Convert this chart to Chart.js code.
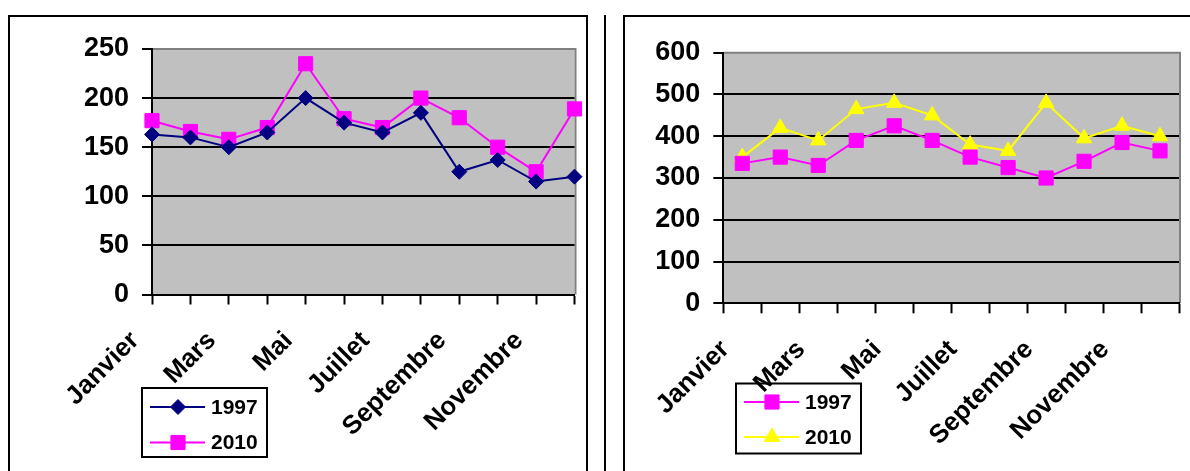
<!DOCTYPE html>
<html>
<head>
<meta charset="utf-8">
<script src="https://cdn.jsdelivr.net/npm/chart.js@4.4.1/dist/chart.umd.min.js"></script>
<style>
  html, body { margin: 0; padding: 0; background: #fff; width: 1190px; height: 471px; overflow: hidden; }
  .box { position: absolute; top: 15px; height: 520px; border: 2px solid #000; box-sizing: border-box; }
  #boxA { left: 8px; width: 580px; }
  #boxB { left: 623px; width: 620px; }
  #sep { position: absolute; left: 604px; top: 15px; width: 2px; height: 520px; background: #000; }
  canvas { position: absolute; left: 0; top: 0; }
</style>
</head>
<body>
<div class="box" id="boxA"><canvas id="chartA" width="576" height="454"></canvas></div>
<div id="sep"></div>
<div class="box" id="boxB"><canvas id="chartB" width="565" height="454"></canvas></div>
<script>
// Months shown on both category axes
const months = ['Janvier', 'Février', 'Mars', 'Avril', 'Mai', 'Juin',
                'Juillet', 'Août', 'Septembre', 'Octobre', 'Novembre', 'Décembre'];

// First chart
const seriesA1997 = [163, 160, 150, 165, 200, 175, 165, 185, 125, 137, 115, 120];
const seriesA2010 = [177, 166, 158, 170, 235, 179, 170, 200, 180, 150, 125, 189];
const ticksA = [0, 50, 100, 150, 200, 250];

// Second chart
const seriesB1997 = [335, 350, 330, 390, 425, 390, 350, 325, 300, 340, 385, 365];
const seriesB2010 = [350, 420, 390, 465, 480, 450, 380, 365, 480, 395, 425, 400];
const ticksB = [0, 100, 200, 300, 400, 500, 600];

const FONT = "'Liberation Sans', Arial, sans-serif";

// Grey plot background with the darker top/right edge
const plotBackground = {
  id: 'plotBackground',
  beforeDraw(chart) {
    const { ctx, chartArea: a } = chart;
    ctx.save();
    ctx.fillStyle = '#C0C0C0';
    ctx.fillRect(a.left, a.top, a.right - a.left, a.bottom - a.top);
    ctx.strokeStyle = '#808080';
    ctx.lineWidth = 2;
    ctx.beginPath();
    ctx.moveTo(a.left, a.top);
    ctx.lineTo(a.right + 1, a.top);
    ctx.lineTo(a.right + 1, a.bottom);
    ctx.stroke();
    ctx.restore();
  }
};

// Boxed legend placed below the plot
const boxLegend = {
  id: 'boxLegend',
  afterDraw(chart, args, opts) {
    const { ctx } = chart;
    ctx.save();
    ctx.lineWidth = 2;
    ctx.strokeStyle = '#000';
    ctx.strokeRect(opts.x, opts.y, opts.w, opts.h);
    chart.data.datasets.forEach((ds, i) => {
      const cy = opts.y + opts.rows[i];
      ctx.strokeStyle = ds.borderColor;
      ctx.lineWidth = 2;
      ctx.beginPath();
      ctx.moveTo(opts.x + 8, cy);
      ctx.lineTo(opts.x + 63, cy);
      ctx.stroke();
      ctx.fillStyle = ds.pointBackgroundColor;
      ctx.strokeStyle = ds.borderColor;
      ctx.lineWidth = 1;
      Chart.helpers.drawPoint(ctx, { pointStyle: ds.pointStyle, radius: ds.pointRadius, borderWidth: 1 },
        opts.x + 36, cy);
      ctx.fillStyle = '#000';
      ctx.font = 'bold 21px ' + FONT;
      ctx.textBaseline = 'middle';
      ctx.textAlign = 'left';
      ctx.fillText(ds.label, opts.x + 69, cy + 1);
    });
    ctx.restore();
  }
};

function makeChart(id, cfg) {
  const yMax = cfg.yTicks[cfg.yTicks.length - 1];
  return new Chart(document.getElementById(id), {
    type: 'line',
    data: {
      labels: months,
      datasets: cfg.series.map(s => ({
        label: s.label,
        data: s.data,
        borderColor: s.color,
        backgroundColor: s.color,
        pointBackgroundColor: s.color,
        pointBorderColor: s.color,
        pointStyle: s.style,
        pointRadius: s.radius,
        pointBorderWidth: 1,
        borderWidth: 2,
        tension: 0,
        clip: false
      }))
    },
    options: {
      responsive: false,
      animation: false,
      events: [],
      layout: { padding: { left: 0, right: cfg.padRight, top: cfg.padTop, bottom: 0 } },
      plugins: {
        legend: { display: false },
        tooltip: { enabled: false },
        boxLegend: cfg.legend
      },
      scales: {
        x: {
          offset: cfg.between,
          grid: {
            offset: cfg.between,
            drawOnChartArea: false,
            tickLength: 10,
            tickWidth: 2,
            tickColor: '#000'
          },
          border: { color: '#000', width: 2 },
          ticks: {
            autoSkip: false,
            minRotation: 45,
            maxRotation: 45,
            padding: cfg.xPad,
            labelOffset: cfg.xLabelOffset,
            color: '#000',
            font: { family: FONT, size: 26, weight: 'bold' },
            callback: (v, i) => (i % 2 === 0 ? months[i] : '')
          },
          afterFit: s => {
            s.height = cfg.xHeight;
            s.paddingLeft = 0;
            s.paddingRight = 0;
          }
        },
        y: {
          min: 0,
          max: yMax,
          grid: {
            color: c => (c.tick && c.tick.value === yMax ? 'rgba(0,0,0,0)' : '#000'),
            lineWidth: 2,
            tickLength: 10,
            tickWidth: 2,
            tickColor: '#000'
          },
          border: { color: '#000', width: 2 },
          afterBuildTicks: s => { s.ticks = cfg.yTicks.map(v => ({ value: v })); },
          ticks: {
            padding: cfg.yPad,
            color: '#000',
            font: { family: FONT, size: 27, weight: 'bold' }
          },
          afterFit: s => {
            s.width = cfg.yWidth;
            s.paddingTop = 0;
            s.paddingBottom = 0;
          }
        }
      }
    },
    plugins: [plotBackground, boxLegend]
  });
}

makeChart('chartA', {
  series: [
    { label: '1997', data: seriesA1997, color: '#000080', style: 'rectRot', radius: 7.5 },
    { label: '2010', data: seriesA2010, color: '#FF00FF', style: 'rect', radius: 10 }
  ],
  yTicks: ticksA,
  between: false,
  yWidth: 142,
  xHeight: 176.5,
  padRight: 11.5,
  padTop: 32,
  yPad: 13,
  xPad: 21,
  xLabelOffset: -17,
  legend: { x: 132, y: 371, w: 125, h: 69, rows: [19, 54.5] }
});

makeChart('chartB', {
  series: [
    { label: '1997', data: seriesB1997, color: '#FF00FF', style: 'rect', radius: 10 },
    { label: '2010', data: seriesB2010, color: '#FFFF00', style: 'triangle', radius: 9 }
  ],
  yTicks: ticksB,
  between: true,
  yWidth: 98.3,
  xHeight: 167.7,
  padRight: 2.3,
  padTop: 35.7,
  yPad: 13,
  xPad: 21,
  xLabelOffset: -17,
  legend: { x: 111, y: 366.5, w: 125, h: 70, rows: [18.5, 53.5] }
});
</script>
</body>
</html>
